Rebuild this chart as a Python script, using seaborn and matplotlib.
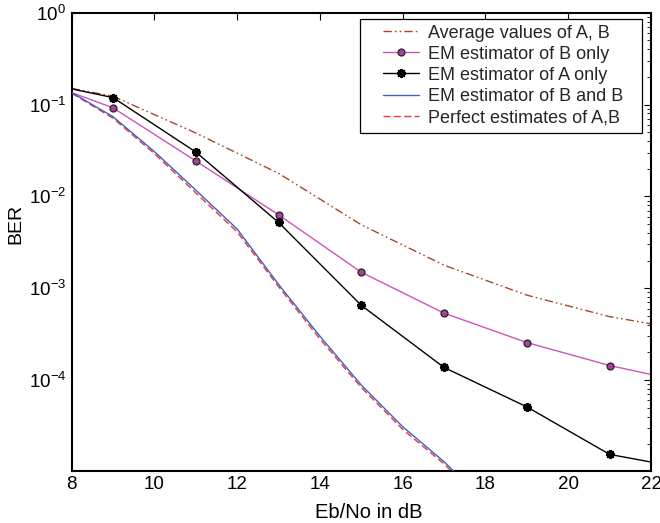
import numpy as np
import pandas as pd
import matplotlib
matplotlib.use("Agg")
import matplotlib.pyplot as plt
from matplotlib.patches import Rectangle
import seaborn as sns

# ---- data ----
snr_coarse = [8, 9, 11, 13, 15, 17, 19, 21, 22]
ber_average = [0.150, 0.123, 0.049, 0.0178, 0.0049, 0.00178, 0.00084, 0.00049, 0.00041]
ber_em_b_only = [0.135, 0.092, 0.0243, 0.0063, 0.00149, 0.000535, 0.000256, 0.000144, 0.000115]
ber_em_a_only = [0.148, 0.119, 0.0304, 0.0052, 0.00065, 0.000137, 0.000051, 0.0000155, 0.0000128]

snr_fine = [8, 9, 10, 11, 12, 13, 14, 15, 16, 17, 18]
ber_em_b_and_b = [0.135, 0.0736, 0.0307, 0.0117, 0.0044, 0.0011, 0.00030, 0.000088, 0.000031, 0.0000129, 0.0000046]
ber_perfect = [0.133, 0.0710, 0.0292, 0.0109, 0.0041, 0.00104, 0.00028, 0.000083, 0.000029, 0.0000122, 0.0000043]

labels = ["Average values of A, B", "EM estimator of B only", "EM estimator of A only",
          "EM estimator of B and B", "Perfect estimates of A,B"]
x_ticks = [8, 10, 12, 14, 16, 18, 20, 22]

sns.set_theme(style="white")
plt.rcParams["font.family"] = ["Liberation Sans", "DejaVu Sans"]
plt.rcParams["mathtext.fontset"] = "custom"
plt.rcParams["mathtext.rm"] = "Liberation Sans"
plt.rcParams["mathtext.default"] = "regular"

fig = plt.figure(figsize=(6.6, 5.23), dpi=100)
ax = fig.add_axes([0.1086, 0.100, 0.8778, 0.8757])

df_c = pd.DataFrame({"snr": snr_coarse, "avg": ber_average, "b": ber_em_b_only, "a": ber_em_a_only})
df_f = pd.DataFrame({"snr": snr_fine, "bb": ber_em_b_and_b, "p": ber_perfect})

sns.lineplot(data=df_c, x="snr", y="avg", ax=ax, color="#A8462A", lw=1.0,
             linestyle=(0, (6, 2.2, 1.2, 2.2, 1.2, 2.2)), label=labels[0])
sns.lineplot(data=df_c, x="snr", y="b", ax=ax, color="#CC55BB", lw=1.0,
             marker="o", markersize=5, markerfacecolor="#A8409E", markeredgecolor="#222222",
             markeredgewidth=0.9, markevery=list(range(1, len(snr_coarse) - 1)), label=labels[1])
sns.lineplot(data=df_c, x="snr", y="a", ax=ax, color="black", lw=1.0,
             marker=(8, 2, 0), markersize=6.5, markeredgewidth=1.4, markeredgecolor="black",
             markevery=list(range(1, len(snr_coarse) - 1)), label=labels[2])
sns.lineplot(data=df_f, x="snr", y="bb", ax=ax, color="#3A62C4", lw=1.0, label=labels[3], zorder=3)
sns.lineplot(data=df_f, x="snr", y="p", ax=ax, color="#F03434", lw=1.0,
             linestyle=(0, (5, 2.5)), label=labels[4], zorder=2.5)

ax.set_yscale("log")
ax.set_xlim(8, 22)
ax.set_ylim(1.03e-5, 1)
ax.set_xticks(x_ticks)
ax.set_xticklabels([str(t) for t in x_ticks])

for s in ax.spines.values():
    s.set_linewidth(1.5)
    s.set_color("black")
ax.tick_params(axis="both", which="both", direction="in", top=True, right=True,
               labelsize=13.5, colors="black", pad=4)
ax.tick_params(which="major", length=5, width=0.8)
ax.tick_params(which="minor", length=3, width=0.6)
ax.tick_params(axis="x", which="minor", bottom=False, top=False)
ax.grid(False)

ax.set_xlabel("Eb/No in dB", fontsize=14.5, color="black")
ax.set_ylabel("BER", fontsize=14, color="black")
ax.xaxis.set_label_coords(0.512, -0.071)
ax.yaxis.set_label_coords(-0.081, 0.539)

# legend box (MATLAB-like wide padding) + frameless legend content
box = Rectangle((0.4977, 0.738), 0.9845 - 0.4977, 0.9856 - 0.738, transform=ax.transAxes,
                facecolor="white", edgecolor="black", lw=0.9, zorder=5)
ax.add_patch(box)
leg = ax.legend(loc="center", bbox_to_anchor=(0.7445, 0.8633), borderaxespad=0,
                fontsize=13, frameon=False, handlelength=2.0, handleheight=0.7,
                handletextpad=0.5, labelspacing=0.23, borderpad=0, numpoints=1)
leg.set_zorder(6)

fig.savefig("out.png", dpi=100)
